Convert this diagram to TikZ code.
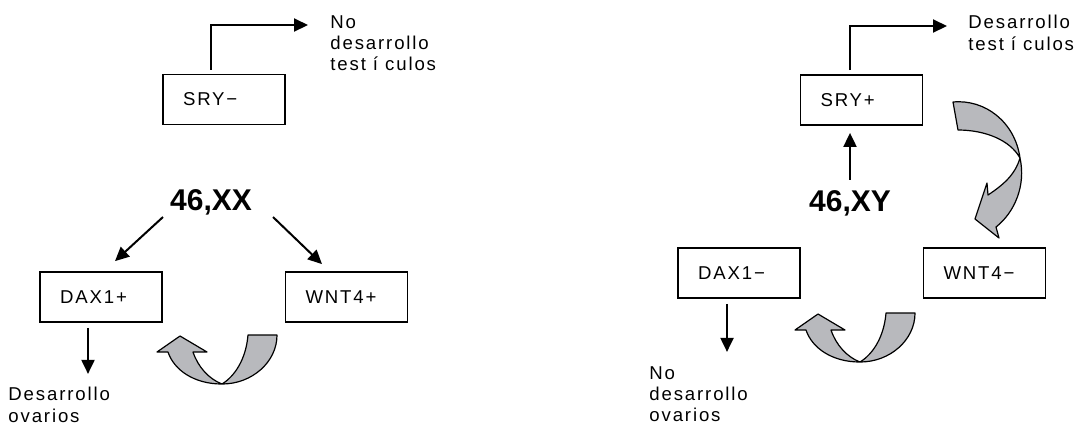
\documentclass[tikz,border=0pt]{standalone}
\usepackage{fontspec}
\setmainfont{Liberation Sans}
\newfontfamily\spacedfont{Liberation Sans}[LetterSpace=10]
\usetikzlibrary{arrows.meta, positioning, calc}
\definecolor{arrowgray}{RGB}{184,185,189}
\tikzset{
  genebox/.style = {rectangle, draw=black, line width=0.9pt,
                    minimum height=25pt, text width=41pt, inner xsep=10pt,
                    align=left, font=\spacedfont\fontsize{9.3}{11}\selectfont},
  outcome/.style = {anchor=north west, inner sep=0pt, align=left,
                    font=\spacedfont\fontsize{9.3}{10.6}\selectfont},
  karyo/.style   = {inner sep=0pt, font=\bfseries\fontsize{15}{18}\selectfont},
  ->/.style      = {line width=1pt, -{Triangle[length=7pt,width=6.5pt]}},
  turn/.style    = {draw=black, line width=0.6pt, fill=arrowgray, line join=round},
  loop arrow/.pic = {
    \path[turn] (55,-49) .. controls (55,-22) and (30,0) .. (0,0)
      .. controls (-28,0) and (-48,-14) .. (-54,-32)
      -- (-65,-32) -- (-42,-48) -- (-15,-32) -- (-29,-32)
      .. controls (-24,-17) and (-13,-5) .. (0,0)
      .. controls (13,-8) and (24,-25) .. (26,-49) -- cycle;
  }
}

\begin{document}
\begin{tikzpicture}[x=0.5pt, y=-0.5pt]
\useasboundingbox (0,0) rectangle (1080,425);

% 46,XX
\node[genebox] at (224,99.5) (sryneg) {SRY−};
\node[outcome] at (330,15) (notestes) {No\\desarrollo\\test í culos};
\draw[->] ($(sryneg.north)+(-13,-4)$) |- ($(notestes.north west)+(-22,10)$);

\node[karyo] at (211,202) (xx) {46,XX};
\node[genebox] at (101,297) (daxpos) {DAX1+};
\node[genebox] at (346.5,297) (wntpos) {WNT4+};

\draw[->] ($(xx)+(-48,15)$) -- ($(daxpos.north)+(14,-10)$);
\draw[->] ($(xx)+(62,15)$) -- ($(wntpos.north)+(-24.5,-7)$);

\node[outcome] at (8,387) (ovpos) {Desarrollo\\ovarios};
\draw[->] ($(daxpos.south)+(-13,5)$) -- ($(daxpos.south)+(-13,51)$);

\pic at (222,384) {loop arrow};

% 46,XY
\node[genebox] at (861.5,100) (srypos) {SRY+};
\node[outcome] at (968,15) (testes) {Desarrollo\\test í culos};
\draw[->] ($(srypos.north)+(-11.5,-4)$) |- ($(testes.north west)+(-21,11)$);

\node[karyo] at (850,203) (xy) {46,XY};
\draw[->] ($(xy.north)+(0,-10)$) -- ($(srypos.south)+(-11.5,7)$);

\node[genebox] at (739,273) (daxneg) {DAX1−};
\node[genebox] at (984.5,273) (wntneg) {WNT4−};

\node[outcome] at (649,366) (noov) {No\\desarrollo\\ovarios};
\draw[->] ($(daxneg.south)+(-12,5)$) -- ($(daxneg.south)+(-12,53)$);

\pic at (860,362) {loop arrow};

\path[turn] (953,102) .. controls (985,99) and (1015,122) .. (1020,158)
  .. controls (1026,185) and (1015,212) .. (996,227)
  -- (999,238) -- (975,219) -- (987,183) -- (988,195)
  .. controls (1003,185) and (1015,175) .. (1020,158)
  .. controls (1010,140) and (985,130) .. (958,130) -- cycle;

\end{tikzpicture}
\end{document}
